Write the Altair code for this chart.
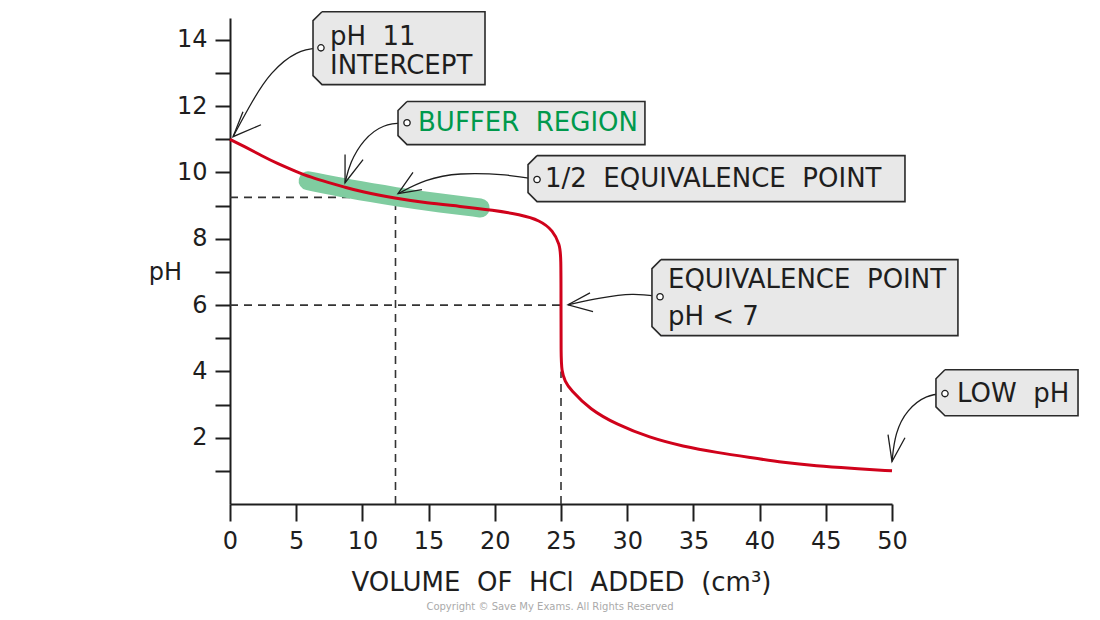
import altair as alt
import pandas as pd

# ---------------- data ----------------
vol = [0, 1.11, 2.37, 3.63, 4.88, 6.14, 7.4, 8.66, 9.9, 12.5, 14.86, 17.37, 19.9,
       21.9, 23.4, 24.4, 24.9, 25.0, 25.0, 25.0, 25.05, 25.3, 25.7, 27.2, 29.2,
       31.7, 34.2, 36.8, 39.3, 41.8, 44.3, 46.8, 50]
ph = [11.0, 10.78, 10.51, 10.26, 10.05, 9.85, 9.70, 9.56, 9.42, 9.22, 9.08, 8.98,
      8.86, 8.73, 8.56, 8.25, 7.82, 7.5, 6.0, 4.5, 4.0, 3.7, 3.45, 2.85, 2.4, 2.0,
      1.74, 1.55, 1.4, 1.25, 1.15, 1.08, 1.0]

buffer_vol = [5.9, 9.0, 12.5, 16.0, 18.9]
buffer_ph = [9.75, 9.50, 9.27, 9.07, 8.93]

# guide lines: (x, x2, y, y2)
guide_x = [0, 12.5, 0, 25]
guide_x2 = [12.5, 12.5, 25, 25]
guide_y = [9.25, 0, 6, 0]
guide_y2 = [9.25, 9.25, 6, 4.0]

# annotation tags (data coordinates)
tag_x1 = [6.27, 12.69, 22.51, 31.87, 53.32]
tag_x2 = [19.26, 31.34, 50.98, 54.98, 64.05]
tag_ytop = [14.85, 12.14, 10.51, 7.37, 4.05]
tag_ybot = [12.65, 10.84, 9.12, 5.08, 2.66]

label_text = ["pH\u00a0 11", "INTERCEPT", "BUFFER\u00a0 REGION",
              "1/2\u00a0 EQUIVALENCE\u00a0 POINT", "EQUIVALENCE\u00a0 POINT",
              "pH < 7", "LOW\u00a0 pH"]
label_x = [7.55, 7.55, 14.2, 23.79, 33.08, 33.08, 54.9]
label_y = [14.10, 13.22, 11.50, 9.79, 6.77, 5.65, 3.33]
label_kind = ["black", "black", "green", "black", "black", "black", "black"]

# arrows: curved shafts
arrow_paths = [
    ([6.87, 5.06, 3.02, 1.74, 0.23], [13.76, 13.70, 13.01, 12.20, 11.08]),
    ([13.37, 11.56, 10.05, 9.06, 8.69], [11.50, 11.47, 10.99, 10.30, 9.69]),
    ([23.19, 21.0, 17.22, 14.73, 12.69], [9.79, 9.94, 10.0, 9.79, 9.36]),
    ([32.48, 30.44, 27.95, 25.53], [6.25, 6.37, 6.22, 6.01]),
    ([54.0, 52.64, 51.13, 50.23, 50.0], [3.33, 3.30, 2.85, 2.15, 1.28]),
]
# arrow heads: two arm end points per arrow (tip is last path point)
arm_a = [(0.98, 11.83), (8.69, 10.54), (13.82, 10.0), (27.19, 6.37), (49.7, 2.09)]
arm_b = [(2.34, 11.44), (10.05, 10.39), (14.5, 9.48), (27.42, 5.80), (50.98, 2.0)]

x_ticks = [0, 5, 10, 15, 20, 25, 30, 35, 40, 45, 50]
y_major = [2, 4, 6, 8, 10, 12, 14]
y_minor = [1, 3, 5, 7, 9, 11, 13]

# ---------------- build tables ----------------
FONT = "DejaVu Sans"
RED = "#d0021b"
GREEN_BAND = "#80cca0"
GREEN_TEXT = "#00994c"
INK = "#1e1e1e"

curve_df = pd.DataFrame({"x": vol, "y": ph, "i": range(len(vol))})
band_df = pd.DataFrame({"x": buffer_vol, "y": buffer_ph, "i": range(len(buffer_vol))})
guide_df = pd.DataFrame({"x": guide_x, "x2": guide_x2, "y": guide_y, "y2": guide_y2})

# chamfer of tag corners, converted from ~9 px into data units
cx = 9 / 13.24
cy = 9 / 33.15
rows = []
for t, (a, b, top, bot) in enumerate(zip(tag_x1, tag_x2, tag_ytop, tag_ybot)):
    pts = [(a + cx, top), (b, top), (b, bot), (a + cx, bot), (a, bot + cy),
           (a, top - cy), (a + cx, top)]
    for k, (px, py) in enumerate(pts):
        rows.append({"tag": t, "k": k, "x": px, "y": py})
tag_df = pd.DataFrame(rows)

label_df = pd.DataFrame({"t": label_text, "x": label_x, "y": label_y, "kind": label_kind})

arr_rows = []
for a_id, (xs, ys) in enumerate(arrow_paths):
    for k, (px, py) in enumerate(zip(xs, ys)):
        arr_rows.append({"a": a_id, "k": k, "x": px, "y": py})
arrow_df = pd.DataFrame(arr_rows)

head_rows = []
for a_id, (xs, ys) in enumerate(arrow_paths):
    tip = (xs[-1], ys[-1])
    for k, p in enumerate([arm_a[a_id], tip, arm_b[a_id]]):
        head_rows.append({"a": a_id, "k": k, "x": p[0], "y": p[1]})
head_df = pd.DataFrame(head_rows)

start_df = pd.DataFrame({"x": [p[0][0] for p in arrow_paths],
                         "y": [p[1][0] for p in arrow_paths]})

copy_df = pd.DataFrame({"x": [24.17], "y": [-3.1],
                        "t": ["Copyright \u00a9 Save My Exams. All Rights Reserved"]})

xscale = alt.Scale(domain=[0, 50], nice=False, zero=False)
yscale = alt.Scale(domain=[0, 14.66], nice=False, zero=False)

X = alt.X("x:Q", scale=xscale)
YN = alt.Y("y:Q", scale=yscale, axis=None)

x_axis = alt.Axis(values=x_ticks, title="VOLUME\u00a0 OF\u00a0 HCl\u00a0 ADDED\u00a0 (cm\u00b3)",
                  tickSize=17, tickWidth=2, tickColor=INK, domainColor=INK,
                  domainWidth=2, labelFontSize=24, labelFont=FONT, labelColor=INK,
                  labelPadding=8, titleFontSize=26, titleFont=FONT,
                  titleFontWeight="normal", titleColor=INK, titleY=78,
                  titleBaseline="middle", grid=False, labelFlush=False)
y_axis = alt.Axis(values=y_major, title="pH", orient="left",
                  tickSize=15, tickWidth=2, tickColor=INK, domainColor=INK,
                  domainWidth=2, labelFontSize=24, labelFont=FONT, labelColor=INK,
                  labelPadding=8, titleFontSize=24, titleFont=FONT,
                  titleFontWeight="normal", titleColor=INK, titleAngle=0,
                  titleX=-65, titleY=254, titleAlign="center",
                  titleBaseline="middle", grid=False, labelFlush=False)
y_axis_minor = alt.Axis(values=y_minor, title="", orient="left", labels=False,
                        domain=False, tickSize=15, tickWidth=2, tickColor=INK,
                        grid=False)

guides = alt.Chart(guide_df).mark_rule(color="#333333", strokeWidth=1.6,
                                       strokeDash=[8, 6]).encode(
    x=alt.X("x:Q", scale=xscale, axis=x_axis),
    x2="x2", y=alt.Y("y:Q", scale=yscale, axis=y_axis), y2="y2")

band = alt.Chart(band_df).mark_line(color=GREEN_BAND, strokeWidth=19, strokeCap="round",
                                    interpolate="basis").encode(
    x=X, y=alt.Y("y:Q", scale=yscale, axis=y_axis_minor), order="i:Q")

curve = alt.Chart(curve_df).mark_line(color=RED, strokeWidth=3, interpolate="basis").encode(
    x=X, y=YN, order="i:Q")

arrows = alt.Chart(arrow_df).mark_line(color=INK, strokeWidth=1.3, interpolate="basis").encode(
    x=X, y=YN, detail="a:N", order="k:Q")

heads = alt.Chart(head_df).mark_line(color=INK, strokeWidth=1.3).encode(
    x=X, y=YN, detail="a:N", order="k:Q")

tag_fill = alt.Chart(tag_df).mark_line(filled=True, fill="#e8e8e8", stroke="#2a2a2a",
                                       strokeWidth=1.6).encode(
    x=X, y=YN, detail="tag:N", order="k:Q")

labels = alt.Chart(label_df).mark_text(align="left", baseline="middle", font=FONT,
                                       fontSize=26).encode(
    x=X, y=YN, text="t:N",
    color=alt.Color("kind:N", scale=alt.Scale(domain=["black", "green"],
                                               range=[INK, GREEN_TEXT]), legend=None))

starts = alt.Chart(start_df).mark_point(shape="circle", size=40, filled=False, fill="white",
                                        stroke=INK, strokeWidth=1.3, opacity=1).encode(
    x=X, y=YN)

copyright_txt = alt.Chart(copy_df).mark_text(font=FONT, fontSize=10, color="#aaaaaa",
                                             align="center", baseline="middle").encode(
    x=X, y=YN, text="t:N")

chart = alt.layer(guides, band, curve, arrows, heads, tag_fill, labels, starts,
                  copyright_txt).resolve_axis(y="independent").properties(
    width=662, height=486,
    autosize=alt.AutoSizeParams(type="none"),
    padding={"left": 222, "top": 10, "right": 200, "bottom": 108},
).configure_view(stroke="transparent", strokeWidth=0)

chart.save("out.html", embed_options={"renderer": "svg", "actions": False})
